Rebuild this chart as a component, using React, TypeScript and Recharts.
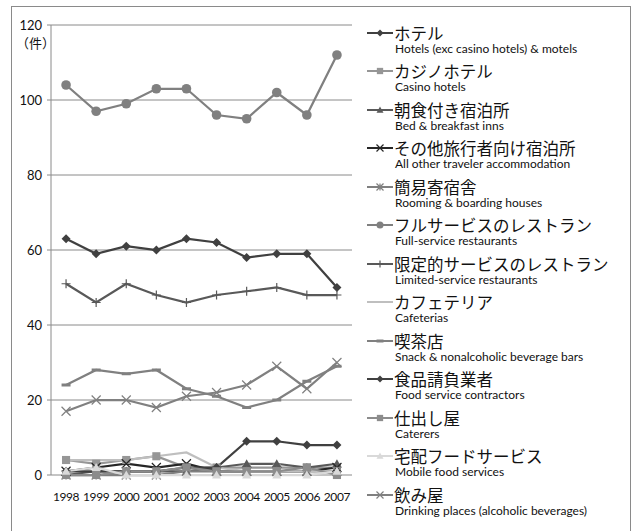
import React from 'react';
import { CartesianGrid, Line, LineChart, XAxis, YAxis } from 'recharts';

const years = ['1998', '1999', '2000', '2001', '2002', '2003', '2004', '2005', '2006', '2007'];
const yTicks = [0, 20, 40, 60, 80, 100, 120];

const hotels = [63, 59, 61, 60, 63, 62, 58, 59, 59, 50];
const casinoHotels = [4, 3, 4, 5, 2, 2, 2, 2, 2, 2];
const bedBreakfast = [0, 1, 1, 1, 1, 2, 3, 3, 2, 3];
const otherTraveler = [1, 2, 3, 2, 3, 1, 1, 1, 1, 2];
const roomingHouses = [0, 0, 0, 0, 1, 1, 1, 1, 1, 1];
const fullService = [104, 97, 99, 103, 103, 96, 95, 102, 96, 112];
const limitedService = [51, 46, 51, 48, 46, 48, 49, 50, 48, 48];
const cafeterias = [4, 4, 4, 5, 6, 2, 1, 1, 1, 1];
const snackBars = [24, 28, 27, 28, 23, 21, 18, 20, 25, 29];
const contractors = [1, 1, 1, 1, 2, 2, 9, 9, 8, 8];
const caterers = [0, 0, 1, 1, 2, 1, 1, 1, 2, 0];
const mobileFood = [1, 2, 0, 0, 0, 0, 0, 0, 0, 1];
const drinkingPlaces = [17, 20, 20, 18, 21, 22, 24, 29, 23, 30];

type Shape = 'diamond' | 'square' | 'triangle' | 'x' | 'asterisk' | 'circle' | 'plus' | 'dash' | 'none';

const series: { key: string; ja: string; en: string; values: number[]; color: string; shape: Shape }[] = [
  { key: 's0', ja: 'ホテル', en: 'Hotels (exc casino hotels) & motels', values: hotels, color: '#404040', shape: 'diamond' },
  { key: 's1', ja: 'カジノホテル', en: 'Casino hotels', values: casinoHotels, color: '#969696', shape: 'square' },
  { key: 's2', ja: '朝食付き宿泊所', en: 'Bed & breakfast inns', values: bedBreakfast, color: '#595959', shape: 'triangle' },
  { key: 's3', ja: 'その他旅行者向け宿泊所', en: 'All other traveler accommodation', values: otherTraveler, color: '#262626', shape: 'x' },
  { key: 's4', ja: '簡易寄宿舎', en: 'Rooming & boarding houses', values: roomingHouses, color: '#7f7f7f', shape: 'asterisk' },
  { key: 's5', ja: 'フルサービスのレストラン', en: 'Full-service restaurants', values: fullService, color: '#808080', shape: 'circle' },
  { key: 's6', ja: '限定的サービスのレストラン', en: 'Limited-service restaurants', values: limitedService, color: '#595959', shape: 'plus' },
  { key: 's7', ja: 'カフェテリア', en: 'Cafeterias', values: cafeterias, color: '#bfbfbf', shape: 'none' },
  { key: 's8', ja: '喫茶店', en: 'Snack & nonalcoholic beverage bars', values: snackBars, color: '#808080', shape: 'dash' },
  { key: 's9', ja: '食品請負業者', en: 'Food service contractors', values: contractors, color: '#404040', shape: 'diamond' },
  { key: 's10', ja: '仕出し屋', en: 'Caterers', values: caterers, color: '#8c8c8c', shape: 'square' },
  { key: 's11', ja: '宅配フードサービス', en: 'Mobile food services', values: mobileFood, color: '#d9d9d9', shape: 'triangle' },
  { key: 's12', ja: '飲み屋', en: 'Drinking places (alcoholic beverages)', values: drinkingPlaces, color: '#808080', shape: 'x' },
];

const data = years.map((year, i) => {
  const row: Record<string, number | string> = { year, x: i + 0.5 };
  series.forEach((s) => {
    row[s.key] = s.values[i];
  });
  return row;
});

function marker(shape: Shape, cx: number, cy: number, color: string, r: number, key?: string) {
  switch (shape) {
    case 'diamond':
      return <path key={key} d={`M${cx},${cy - r}L${cx + r},${cy}L${cx},${cy + r}L${cx - r},${cy}Z`} fill={color} />;
    case 'square':
      return <rect key={key} x={cx - r * 0.9} y={cy - r * 0.9} width={r * 1.8} height={r * 1.8} fill={color} />;
    case 'triangle':
      return <path key={key} d={`M${cx},${cy - r}L${cx + r},${cy + r * 0.8}L${cx - r},${cy + r * 0.8}Z`} fill={color} />;
    case 'circle':
      return <circle key={key} cx={cx} cy={cy} r={r} fill={color} />;
    case 'x':
      return (
        <path key={key} d={`M${cx - r},${cy - r}L${cx + r},${cy + r}M${cx - r},${cy + r}L${cx + r},${cy - r}`} stroke={color} strokeWidth={1.2} fill="none" />
      );
    case 'asterisk':
      return (
        <path
          key={key}
          d={`M${cx - r},${cy - r}L${cx + r},${cy + r}M${cx - r},${cy + r}L${cx + r},${cy - r}M${cx},${cy - r}L${cx},${cy + r}`}
          stroke={color}
          strokeWidth={1.2}
          fill="none"
        />
      );
    case 'plus':
      return <path key={key} d={`M${cx - r},${cy}L${cx + r},${cy}M${cx},${cy - r}L${cx},${cy + r}`} stroke={color} strokeWidth={1.2} fill="none" />;
    case 'dash':
      return <path key={key} d={`M${cx - r},${cy}L${cx + r},${cy}`} stroke={color} strokeWidth={3} fill="none" />;
    default:
      return <g key={key} />;
  }
}

const jaFont = '"Noto Sans CJK JP", sans-serif';
const enFont = 'Lato, "Open Sans", sans-serif';

function LegendBlock() {
  return (
    <div style={{ position: 'absolute', left: 354, top: 16.5, width: 262 }}>
      {series.map((s) => (
        <div key={s.key} style={{ height: 38.5 }}>
          <div style={{ display: 'flex', alignItems: 'center', height: 18 }}>
            <svg width={28} height={14} style={{ flex: 'none' }}>
              <line x1={1} y1={7} x2={27} y2={7} stroke={s.color} strokeWidth={2} />
              {marker(s.shape, 14, 7, s.color, 3.5)}
            </svg>
            <span
              style={{
                display: 'inline-block',
                height: 18,
                fontFamily: jaFont,
                fontSize: 16.5,
                lineHeight: '18px',
                color: '#111',
                whiteSpace: 'nowrap',
              }}
            >
              {s.ja}
            </span>
          </div>
          <div
            style={{
              height: 13,
              fontFamily: enFont,
              fontSize: 12,
              lineHeight: '13px',
              color: '#111',
              paddingLeft: 29,
              whiteSpace: 'nowrap',
            }}
          >
            {s.en}
          </div>
        </div>
      ))}
    </div>
  );
}

export default function App() {
  return (
    <div
      style={{
        position: 'absolute',
        left: 11,
        top: 6,
        width: 618,
        height: 528,
        border: '1px solid #8a8a8a',
        background: '#fff',
      }}
    >
      <LineChart width={618} height={528} data={data} margin={{ top: 18, right: 278, left: 0, bottom: 30 }}>
        <CartesianGrid vertical={false} stroke="#8a8a8a" strokeWidth={1} />
        <XAxis
          dataKey="x"
          type="number"
          domain={[0, 10]}
          ticks={[0, 1, 2, 3, 4, 5, 6, 7, 8, 9, 10]}
          tick={false}
          height={0}
          tickSize={4}
          stroke="#8a8a8a"
        />
        <XAxis
          xAxisId="lbl"
          dataKey="x"
          type="number"
          domain={[0, 10]}
          ticks={years.map((_, i) => i + 0.5)}
          tickFormatter={(v: number) => years[Math.round(v - 0.5)]}
          interval={0}
          axisLine={false}
          tickLine={false}
          tickSize={0}
          tickMargin={17}
          height={30}
          tick={{ fontFamily: enFont, fontSize: 12, fill: '#111', letterSpacing: -0.4 }}
        />
        <YAxis
          domain={[0, 120]}
          ticks={yTicks}
          width={39}
          tickSize={4}
          tickMargin={5}
          stroke="#8a8a8a"
          tick={{ fontFamily: enFont, fontSize: 13, fill: '#111' }}
        />
        {series.map((s) => (
          <Line
            key={s.key}
            dataKey={s.key}
            stroke={s.color}
            strokeWidth={2.25}
            isAnimationActive={false}
            dot={(p: any) => marker(s.shape, p.cx, p.cy, s.color, s.shape === 'circle' ? 4.8 : 4.5, `${s.key}-${p.index}`)}
            activeDot={false}
          />
        ))}
      </LineChart>
      <div style={{ position: 'absolute', left: 4, top: 26, fontFamily: jaFont, fontSize: 13, color: '#111' }}>（件）</div>
      <LegendBlock />
    </div>
  );
}
